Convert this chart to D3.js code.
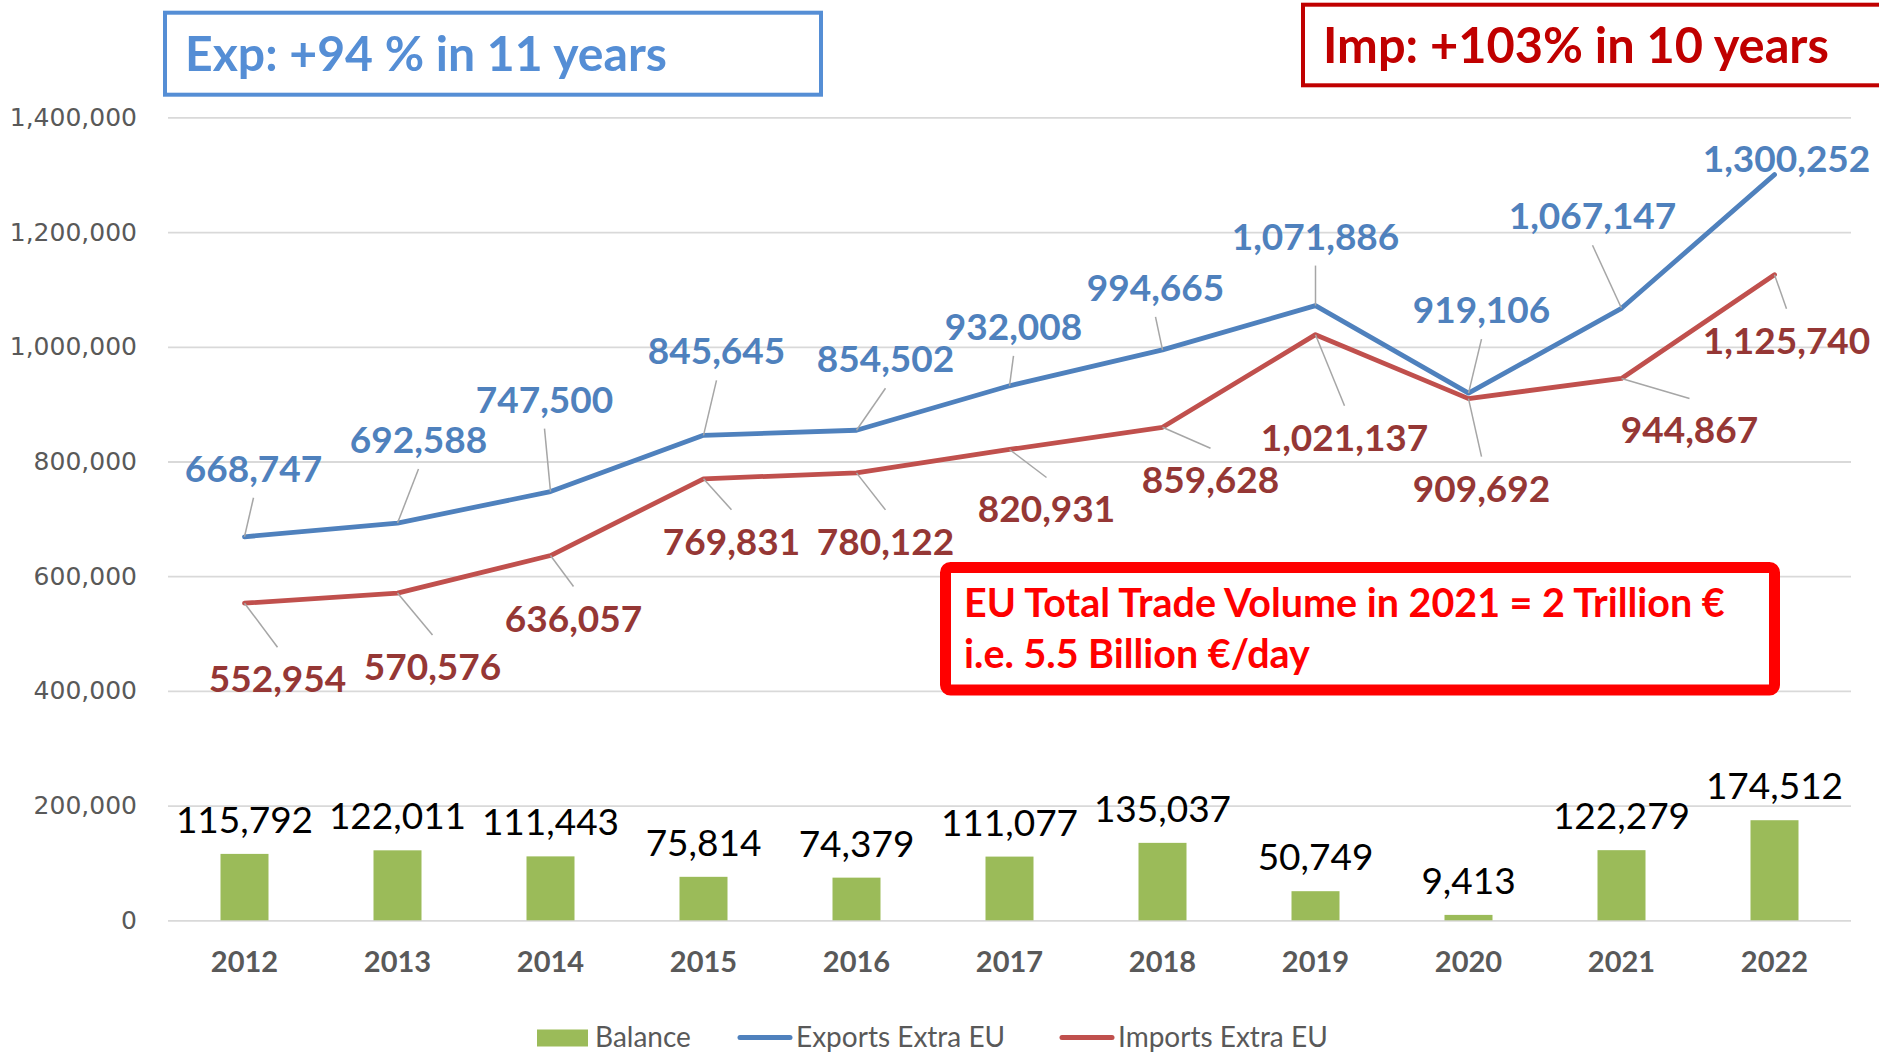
<!DOCTYPE html>
<html>
<head>
<meta charset="utf-8">
<script src="https://cdn.jsdelivr.net/npm/d3@7/dist/d3.min.js"></script>
<style>
body { margin: 0; background: #fff; }
svg { display: block; }
</style>
</head>
<body>
<svg id="chart"></svg>
<script>
// data
var years = ['2012', '2013', '2014', '2015', '2016', '2017', '2018', '2019', '2020', '2021', '2022'];
var exportsExtraEU = [668747, 692588, 747500, 845645, 854502, 932008, 994665, 1071886, 919106, 1067147, 1300252];
var importsExtraEU = [552954, 570576, 636057, 769831, 780122, 820931, 859628, 1021137, 909692, 944867, 1125740];
var balance = [115792, 122011, 111443, 75814, 74379, 111077, 135037, 50749, 9413, 122279, 174512];
var yTicks = [0, 200000, 400000, 600000, 800000, 1000000, 1200000, 1400000];
var seriesNames = ['Balance', 'Exports Extra EU', 'Imports Extra EU'];
var expNote = 'Exp: +94 % in 11 years';
var impNote = 'Imp: +103% in 10 years';
var tradeNote = ['EU Total Trade Volume in 2021 = 2 Trillion €', 'i.e. 5.5 Billion €/day'];

// label placement (pixels from the point), like the hand-moved labels in the original
var expOff = [[9, -68], [21, -83], [-6, -92], [13, -84], [29, -71], [4, -59], [-7, -62], [0, -69], [13, -83], [-29, -92], [12, -16]];
var impOff = [[33, 76], [35, 74], [23, 63], [28, 63], [29, 69], [37, 60], [48, 53], [29, 103], [13, 90], [68, 52], [12, 66]];

var W = 1879, H = 1052;
var plotL = 168, plotR = 1851, plotT = 117.4, plotB = 920.3;
var blue = '#4F81BD', red = '#C0504D', green = '#9BBB59', grey = '#595959';
var fmt = d3.format(',');

var svg = d3.select('#chart').attr('width', W).attr('height', H);

var x = d3.scaleBand().domain(years).range([plotL, plotR]);
var y = d3.scaleLinear().domain([0, 1400000]).range([plotB, plotT]);
var cx = function (i) { return x(years[i]) + x.bandwidth() / 2; };

// y axis + gridlines
var yAxis = svg.append('g')
    .attr('transform', 'translate(' + plotL + ',0)')
    .call(d3.axisLeft(y).tickValues(yTicks).tickFormat(fmt).tickSize(-(plotR - plotL)).tickPadding(31));
yAxis.select('.domain').remove();
yAxis.selectAll('line').attr('stroke', '#D9D9D9').attr('stroke-width', 1.8);
yAxis.selectAll('text')
    .attr('fill', grey)
    .attr('font-family', 'DejaVu Sans, Verdana, sans-serif')
    .attr('font-size', 25);

// x axis
var xAxis = svg.append('g')
    .attr('transform', 'translate(0,' + plotB + ')')
    .call(d3.axisBottom(x).tickSize(0).tickPadding(31));
xAxis.select('.domain').remove();
xAxis.selectAll('text')
    .attr('fill', grey)
    .attr('font-family', 'Lato, sans-serif')
    .attr('font-weight', 'bold')
    .attr('font-size', 29);

// balance bars
var barW = 48;
svg.append('g').selectAll('rect')
    .data(balance)
    .enter()
    .append('rect')
    .attr('x', function (d, i) { return cx(i) - barW / 2; })
    .attr('y', function (d) { return y(d); })
    .attr('width', barW)
    .attr('height', function (d) { return plotB - y(d); })
    .attr('fill', green);

svg.append('g').selectAll('text')
    .data(balance)
    .enter()
    .append('text')
    .text(function (d) { return fmt(d); })
    .attr('x', function (d, i) { return cx(i); })
    .attr('y', function (d) { return y(d) - 21; })
    .attr('text-anchor', 'middle')
    .attr('font-family', 'Lato, sans-serif')
    .attr('font-size', 37)
    .attr('fill', '#000');

// lines
var line = d3.line()
    .x(function (d, i) { return cx(i); })
    .y(function (d) { return y(d); });

function drawSeries(data, color, labelColor, off, above) {
    svg.append('path')
        .datum(data)
        .attr('d', line)
        .attr('fill', 'none')
        .attr('stroke', color)
        .attr('stroke-width', 4.8)
        .attr('stroke-linejoin', 'round')
        .attr('stroke-linecap', 'round');

    var g = svg.append('g');
    data.forEach(function (d, i) {
        var px = cx(i), py = y(d);
        var lx = px + off[i][0], ly = py + off[i][1];
        if (Math.abs(off[i][1]) > 30) {
            g.append('line')
                .attr('x1', px).attr('y1', py)
                .attr('x2', lx).attr('y2', above ? ly + 29 : ly - 32)
                .attr('stroke', '#A6A6A6')
                .attr('stroke-width', 1.5);
        }
        g.append('text')
            .text(fmt(d))
            .attr('x', lx)
            .attr('y', ly + 13)
            .attr('text-anchor', 'middle')
            .attr('font-family', 'Lato, sans-serif')
            .attr('font-weight', 'bold')
            .attr('font-size', 37)
            .attr('fill', labelColor);
    });
}
drawSeries(importsExtraEU, red, '#953735', impOff, false);
drawSeries(exportsExtraEU, blue, blue, expOff, true);

// legend
var legendX = [537, 738, 1060];
var legend = svg.append('g');
seriesNames.forEach(function (name, i) {
    var lx = legendX[i];
    if (i === 0) {
        legend.append('rect').attr('x', lx).attr('y', 1029.5).attr('width', 51).attr('height', 17).attr('fill', green);
    } else {
        legend.append('line')
            .attr('x1', lx + 2).attr('x2', lx + 52)
            .attr('y1', 1037.5).attr('y2', 1037.5)
            .attr('stroke', i === 1 ? blue : red)
            .attr('stroke-width', 5)
            .attr('stroke-linecap', 'round');
    }
    legend.append('text')
        .text(name)
        .attr('x', lx + 58)
        .attr('y', 1046.5)
        .attr('font-family', 'Lato, sans-serif')
        .attr('font-size', 28)
        .attr('fill', grey);
});

// fit a text element to a given width
function fitWidth(sel, w) {
    var len = sel.node().getComputedTextLength();
    var fs = parseFloat(sel.attr('font-size'));
    sel.attr('font-size', fs * w / len);
    return fs * w / len;
}

// annotation boxes
svg.append('rect')
    .attr('x', 165).attr('y', 12.7).attr('width', 656).attr('height', 82)
    .attr('fill', '#fff').attr('stroke', '#558ED5').attr('stroke-width', 4);
var t1 = svg.append('text').text(expNote)
    .attr('x', 185).attr('y', 70.7)
    .attr('font-family', 'Lato, sans-serif').attr('font-weight', 'bold')
    .attr('font-size', 48).attr('fill', '#558ED5');
fitWidth(t1, 482);

svg.append('rect')
    .attr('x', 1303).attr('y', 4.7).attr('width', 620).attr('height', 80.6)
    .attr('fill', '#fff').attr('stroke', '#C00000').attr('stroke-width', 4);
var t2 = svg.append('text').text(impNote)
    .attr('x', 1323).attr('y', 62.7)
    .attr('font-family', 'Lato, sans-serif').attr('font-weight', 'bold')
    .attr('font-size', 46).attr('fill', '#C00000');
fitWidth(t2, 506);

svg.append('rect')
    .attr('x', 945.5).attr('y', 567.5).attr('width', 829).attr('height', 122.5)
    .attr('rx', 5)
    .attr('fill', '#fff').attr('stroke', '#FF0000').attr('stroke-width', 11);
var t3 = svg.append('text').text(tradeNote[0])
    .attr('x', 964).attr('y', 616.7)
    .attr('font-family', 'Lato, sans-serif').attr('font-weight', 'bold')
    .attr('font-size', 36).attr('fill', '#FF0000');
var fs3 = fitWidth(t3, 761);
svg.append('text').text(tradeNote[1])
    .attr('x', 964).attr('y', 668.3)
    .attr('font-family', 'Lato, sans-serif').attr('font-weight', 'bold')
    .attr('font-size', fs3).attr('fill', '#FF0000');
</script>
</body>
</html>
